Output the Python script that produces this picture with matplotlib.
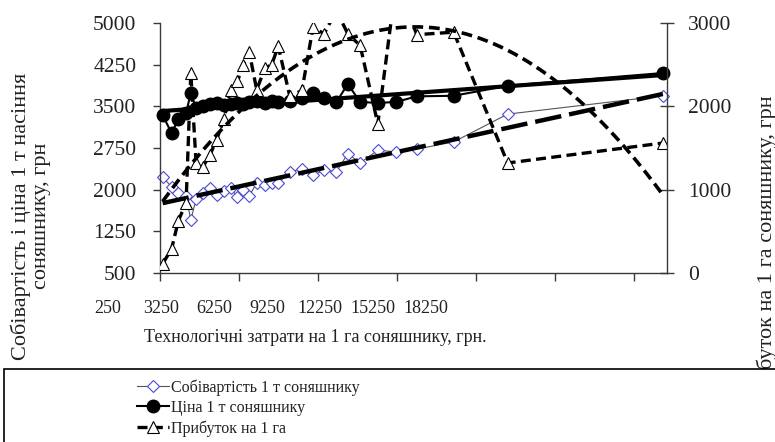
import matplotlib
matplotlib.use("Agg")
import matplotlib.pyplot as plt
from matplotlib.patches import Rectangle
import numpy as np

plt.rcParams['font.family'] = ['Liberation Serif', 'DejaVu Serif']

# technology costs per 1 ha (x), UAH
tech_costs = [350, 690, 950, 1240, 1420, 1620, 1870, 2150, 2400, 2680, 2930, 3190,
              3410, 3640, 3920, 4240, 4490, 4740, 5180, 5640, 6060, 6480, 6950, 7380,
              7850, 8520, 9220, 10000, 11400, 13450, 19350]
# cost of 1 t, UAH (left axis)
cost_per_t = [2230, 2050, 1940, 1890, 1450, 1830, 1940, 2030, 1910, 1980, 2030, 1870,
              1990, 1890, 2120, 2090, 2120, 2120, 2320, 2380, 2260, 2350, 2320, 2650,
              2480, 2710, 2680, 2730, 2860, 3360, 3690]
# price of 1 t, UAH (left axis)
price_per_t = [3340, 3020, 3270, 3380, 3740, 3470, 3510, 3540, 3560, 3530, 3540, 3560,
               3540, 3570, 3590, 3560, 3600, 3570, 3600, 3650, 3740, 3650, 3580, 3900,
               3580, 3560, 3580, 3680, 3690, 3870, 4100]
# profit per 1 ha, UAH (right axis)
profit_per_ha = [110, 290, 630, 840, 2400, 1320, 1270, 1420, 1600, 1850, 2200, 2300,
                 2500, 2650, 2200, 2460, 2500, 2720, 2120, 2190, 2950, 2870, 3150, 2870,
                 2730, 1790, 3500, 2860, 2890, 1320, 1560]

x_ticks = [250, 3250, 6250, 9250, 12250, 15250, 18250]
left_ticks = [500, 1250, 2000, 2750, 3500, 4250, 5000]
right_ticks = [0, 1000, 2000, 3000]

lbl_cost = 'Собівартість 1 т соняшнику'
lbl_price = 'Ціна 1 т соняшнику'
lbl_profit = 'Прибуток на 1 га'
x_title = 'Технологічні затрати на 1 га соняшнику, грн.'
y_title = 'Собівартість і ціна 1 т насіння\nсоняшнику, грн'
y2_title = 'Прибуток на 1 га соняшнику, грн'

W, H = 775, 442
axis_col = '#3a3a3a'
text_col = '#222222'

fig = plt.figure(figsize=(W / 100, H / 100), dpi=100)
ax = fig.add_axes([160 / W, (H - 273) / H, 507 / W, 250 / H])
ax2 = ax.twinx()

x = np.array(tech_costs)
xx = np.linspace(x.min(), x.max(), 300)

# series on the left axis
l_cost, = ax.plot(x, cost_per_t, color='#555555', linewidth=0.8, marker='D',
                  markersize=6, markerfacecolor='white', markeredgecolor='#4a4ad0',
                  markeredgewidth=0.8, clip_on=False, zorder=2)
l_price, = ax.plot(x, price_per_t, color='black', linewidth=1.5, marker='o',
                   markersize=9, clip_on=False, zorder=3)

# trend lines (least squares, like the Excel ones)
c_fit = np.polyfit(x, cost_per_t, 1)
ax.plot(xx, np.polyval(c_fit, xx), color='black', linewidth=3.2,
        dashes=(6, 1.8), zorder=4)
p_fit = np.polyfit(x, price_per_t, 1)
ax.plot(xx, np.polyval(p_fit, xx), color='black', linewidth=3.0, zorder=4)

# profit on the right axis
l_profit, = ax2.plot(x, profit_per_ha, color='black', linewidth=2.4, dashes=(3, 1.6),
                     marker='^', markersize=9, markerfacecolor='white',
                     markeredgecolor='black', markeredgewidth=0.8, zorder=2)
pr_fit = np.polyfit(x, profit_per_ha, 2)
ax2.plot(xx, np.polyval(pr_fit, xx), color='black', linewidth=2.6,
         dashes=(3, 1.6), zorder=3)

ax.set_xlim(250, 19500)
ax.set_ylim(500, 5000)
ax2.set_ylim(0, 3000)
ax.set_xticks(x_ticks)
ax.set_yticks(left_ticks)
ax2.set_yticks(right_ticks)

# spines
ax.spines['top'].set_visible(False)
ax.spines['right'].set_visible(False)
ax2.spines['top'].set_visible(False)
ax2.spines['left'].set_visible(False)
ax2.spines['bottom'].set_visible(False)
for sp in [ax.spines['left'], ax.spines['bottom'], ax2.spines['right']]:
    sp.set_color(axis_col)
    sp.set_linewidth(1.0)

ax.tick_params(axis='y', direction='out', length=5, width=1, color=axis_col,
               labelsize=15.5, labelcolor=text_col, pad=12)
ax.tick_params(axis='x', direction='out', length=6, width=1, color=axis_col,
               labelbottom=False)
ax2.tick_params(axis='y', direction='inout', length=10, width=1, color=axis_col,
                labelsize=15.5, labelcolor=text_col, pad=10)

# x tick labels sit squeezed to the left in the original, keep them on their own axis
axl = fig.add_axes([108 / W, (H - 300) / H, 340 / W, 0.001])
axl.set_xlim(ax.get_xlim())
axl.set_xticks(x_ticks)
axl.set_yticks([])
axl.tick_params(axis='x', length=0, pad=0, labelsize=13, labelcolor=text_col)
for sp in axl.spines.values():
    sp.set_visible(False)
axl.patch.set_visible(False)

fig.text(315 / W, 1 - 337 / H, x_title, ha='center', va='center',
         fontsize=13, color=text_col)
fig.text(31 / W, 1 - 216 / H, y_title, rotation=90, ha='center', va='center',
         multialignment='center', fontsize=16, color=text_col, linespacing=1.1)
fig.text(767 / W, 1 - 252 / H, y2_title, rotation=90, ha='center', va='center',
         fontsize=16, color=text_col)

# legend box runs off the page at the right and bottom
box = Rectangle((4 / W, -0.2), 1.5, (H - 369) / H + 0.2, transform=fig.transFigure,
                facecolor='white', edgecolor='black', linewidth=1.2, zorder=10,
                clip_on=False)
fig.add_artist(box)
leg = fig.legend(handles=[l_cost, l_price, l_profit],
                 labels=[lbl_cost, lbl_price, lbl_profit],
                 loc='upper left', bbox_to_anchor=(137 / W, 1 - 379 / H),
                 frameon=False, fontsize=11.5, handlelength=2.0,
                 handletextpad=0.15, labelspacing=0.28, borderpad=0,
                 borderaxespad=0)
leg.set_zorder(11)
for t in leg.get_texts():
    t.set_color(text_col)

fig.savefig('out.png', dpi=100)
